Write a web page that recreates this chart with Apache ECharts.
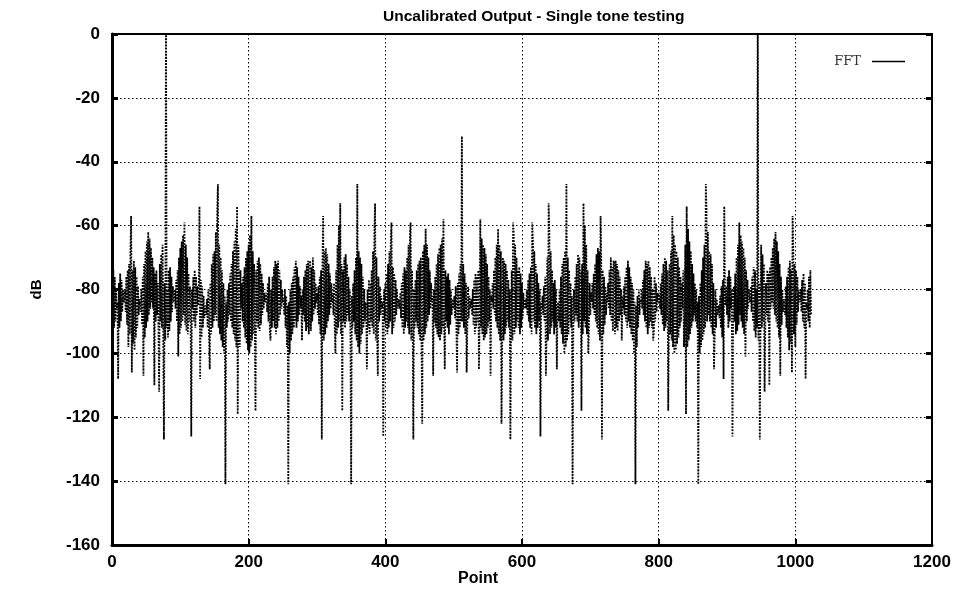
<!DOCTYPE html>
<html>
<head>
<meta charset="utf-8">
<title>Uncalibrated Output - Single tone testing</title>
<script src="https://cdn.jsdelivr.net/npm/echarts@6.0.0/dist/echarts.min.js"></script>
<style>
  html, body { margin: 0; padding: 0; background: #fff; }
  #chart { width: 957px; height: 589px; }
</style>
</head>
<body>
<div id="chart"></div>
<script>
// FFT bins 0..512 (dB)
const dbFirstHalf = [
  -72,-88,-74,-92,-76,-90,-80,-86,-84,-108,
  -78,-92,-75,-90,-77,-87,-80,-84,-83,-80,
  -87,-76,-91,-74,-98,-72,-94,-68,-57,-106,
  -74,-97,-71,-99,-73,-95,-76,-92,-79,-88,
  -83,-84,-87,-80,-91,-76,-107,-72,-95,-68,
  -92,-65,-90,-62,-88,-64,-86,-67,-84,-70,
  -86,-73,-110,-75,-90,-74,-88,-78,-92,-112,
  -72,-90,-69,-92,-66,-95,-127,-78,-96,10,
  -92,-80,-95,-74,-93,-73,-90,-76,-87,-79,
  -84,-82,-80,-86,-77,-90,-74,-101,-70,-94,
  -67,-92,-65,-90,-63,-88,-59,-91,-66,-93,
  -70,-94,-75,-90,-79,-86,-126,-80,-86,-76,
  -90,-74,-92,-76,-88,-79,-85,-82,-54,-108,
  -77,-95,-79,-92,-82,-89,-85,-86,-88,-83,
  -92,-80,-95,-105,-78,-94,-72,-92,-69,-90,
  -68,-88,-62,-90,-55,-47,-92,-66,-94,-70,
  -96,-74,-98,-78,-100,-82,-141,-84,-92,-80,
  -90,-78,-88,-75,-90,-72,-92,-68,-94,-65,
  -96,-61,-98,-54,-119,-66,-88,-98,-74,-86,
  -78,-90,-76,-92,-73,-95,-70,-97,-68,-99,
  -66,-100,-63,-98,-57,-96,-68,-94,-72,-92,
  -118,-74,-90,-71,-92,-70,-93,-72,-91,-75,
  -88,-78,-86,-81,-84,-84,-81,-87,-78,-90,
  -76,-93,-96,-80,-92,-76,-90,-73,-92,-71,
  -94,-72,-92,-71,-90,-74,-88,-77,-86,-80,
  -84,-83,-88,-80,-92,-82,-98,-85,-141,-84,
  -100,-80,-96,-78,-94,-76,-92,-73,-90,-71,
  -92,-73,-90,-76,-88,-79,-86,-82,-96,-80,
  -88,-76,-90,-74,-93,-72,-92,-71,-94,-72,
  -71,-93,-73,-90,-70,-88,-74,-86,-78,-84,
  -81,-88,-79,-91,-76,-94,-74,-127,-72,-57,
  -96,-68,-94,-67,-92,-69,-90,-72,-88,-75,
  -86,-78,-84,-81,-88,-78,-92,-100,-74,-94,
  -66,-92,-60,-90,-53,-94,-72,-118,-74,-90,
  -70,-92,-69,-90,-72,-88,-76,-90,-80,-95,
  -141,-82,-92,-78,-90,-74,-94,-70,-96,-47,
  -98,-68,-100,-70,-97,-72,-94,-76,-92,-80,
  -90,-84,-86,-105,-80,-92,-77,-94,-78,-90,
  -74,-92,-68,-94,-62,-53,-96,-70,-94,-107,
  -76,-90,-79,-88,-82,-86,-84,-126,-80,-90,
  -78,-92,-75,-94,-72,-92,-68,-90,-65,-59,
  -94,-73,-92,-75,-90,-77,-88,-80,-86,-83,
  -84,-86,-81,-89,-78,-92,-75,-94,-73,-92,
  -74,-90,-70,-92,-66,-94,-63,-59,-96,-74,
  -90,-127,-80,-92,-77,-90,-74,-92,-72,-94,
  -71,-96,-70,-98,-122,-68,-96,-66,-94,-61,
  -92,-66,-90,-70,-88,-74,-86,-78,-84,-82,
  -107,-80,-90,-76,-92,-72,-94,-69,-95,-67,
  -96,-66,-94,-64,-92,-58,-90,-105,-74,-90,
  -76,-92,-75,-94,-77,-91,-80,-88,-83,-85,
  -86,-82,-89,-79,-92,-106,-78,-94,-75,-92,
  -72,-90,-32
];

// FFT bins 513..1023 (mirror side of the spectrum)
const dbSecondHalf = [
  -90,-72,
  -92,-75,-94,-78,-106,-92,-79,-89,-82,-86,
  -85,-83,-88,-80,-91,-77,-94,-75,-92,-76,
  -90,-74,-105,-90,-58,-92,-64,-94,-66,-96,
  -67,-95,-69,-94,-72,-92,-76,-90,-80,-107,
  -82,-84,-78,-86,-74,-88,-70,-90,-66,-92,
  -61,-94,-66,-96,-68,-122,-98,-70,-96,-71,
  -94,-72,-92,-74,-90,-77,-92,-80,-127,-90,
  -74,-96,-59,-63,-94,-66,-92,-70,-90,-74,
  -92,-73,-94,-75,-92,-78,-89,-81,-86,-84,
  -83,-86,-80,-88,-77,-90,-75,-92,-73,-94,
  -59,-65,-90,-68,-92,-72,-94,-75,-92,-78,
  -90,-80,-126,-84,-86,-82,-88,-79,-90,-76,
  -107,-94,-70,-96,-53,-62,-94,-68,-92,-74,
  -90,-78,-94,-77,-92,-80,-105,-86,-84,-90,
  -80,-92,-76,-94,-72,-97,-70,-100,-68,-98,
  -47,-96,-70,-94,-74,-90,-78,-92,-82,-141,
  -95,-80,-90,-76,-88,-72,-90,-69,-92,-70,
  -90,-74,-118,-72,-94,-53,-90,-60,-92,-66,
  -94,-74,-100,-92,-78,-88,-81,-84,-78,-86,
  -75,-88,-72,-90,-69,-92,-67,-94,-68,-96,
  -57,-72,-127,-74,-94,-76,-91,-79,-88,-81,
  -84,-78,-86,-74,-88,-70,-90,-73,-93,-71,
  -72,-94,-71,-92,-72,-93,-74,-90,-76,-88,
  -80,-96,-82,-86,-79,-88,-76,-90,-73,-92,
  -71,-90,-73,-92,-76,-94,-78,-96,-80,-100,
  -84,-141,-85,-98,-82,-92,-80,-88,-83,-84,
  -80,-86,-77,-88,-74,-90,-71,-92,-72,-94,
  -71,-92,-73,-90,-76,-92,-80,-96,-93,-76,
  -90,-78,-87,-81,-84,-84,-81,-86,-78,-88,
  -75,-91,-72,-93,-70,-92,-71,-90,-74,-118,
  -92,-72,-94,-68,-96,-57,-98,-63,-100,-66,
  -99,-68,-97,-70,-95,-73,-92,-76,-90,-78,
  -86,-74,-98,-88,-66,-119,-54,-98,-61,-96,
  -65,-94,-68,-92,-72,-90,-75,-88,-78,-90,
  -80,-92,-84,-141,-82,-100,-78,-98,-74,-96,
  -70,-94,-66,-92,-47,-55,-90,-62,-88,-68,
  -90,-69,-92,-72,-94,-78,-105,-95,-80,-92,
  -83,-88,-86,-85,-89,-82,-92,-79,-95,-77,
  -108,-54,-82,-85,-79,-88,-76,-92,-74,-90,
  -76,-86,-80,-126,-86,-79,-90,-75,-94,-70,
  -93,-66,-91,-59,-88,-63,-90,-65,-92,-67,
  -94,-70,-101,-74,-90,-77,-86,-80,-82,-84,
  -79,-87,-76,-90,-73,-93,-74,-95,-80,-92,
  10,-96,-78,-127,-95,-66,-92,-69,-90,-72,
  -112,-92,-78,-88,-74,-90,-75,-110,-73,-86,
  -70,-84,-67,-86,-64,-88,-62,-90,-65,-92,
  -68,-95,-72,-107,-76,-91,-80,-87,-84,-83,
  -88,-79,-92,-76,-95,-73,-99,-71,-97,-74,
  -106,-57,-68,-94,-72,-98,-74,-91,-76,-87,
  -80,-83,-84,-80,-87,-77,-90,-75,-92,-78,
  -108,-84,-86,-80,-90,-76,-92,-74,-88
];

const xTicks = [0, 200, 400, 600, 800, 1000, 1200];
const yTicks = [-160, -140, -120, -100, -80, -60, -40, -20, 0];

const fftValues = dbFirstHalf.concat(dbSecondHalf);
const fftData = fftValues.map((v, i) => [i, v]);

const font = "'Liberation Sans', Arial, Helvetica, sans-serif";
const chart = echarts.init(document.getElementById("chart"));

const gridLine = {
  show: true,
  lineStyle: { color: "#000", width: 1, type: [1.5, 2.5] },
};

const option = {
  animation: false,
  backgroundColor: "#fff",
  title: {
    text: "Uncalibrated Output - Single tone testing",
    left: 383,
    top: 9,
    padding: 0,
    textStyle: { fontFamily: font, fontSize: 15.5, fontWeight: "bold", color: "#000" },
  },
  legend: {
    data: ["FFT"],
    right: 47,
    top: 50,
    align: "right",
    icon: "rect",
    itemWidth: 33,
    itemHeight: 1.5,
    itemGap: 10,
    itemStyle: { color: "#000", borderWidth: 0 },
    textStyle: { fontFamily: "'DejaVu Serif', serif", fontSize: 13, color: "#333", padding: [0, 6, 0, 0] },
  },
  grid: {
    left: 112,
    top: 34,
    width: 820,
    height: 511,
    outerBoundsMode: "none",
    show: true,
    borderColor: "#000",
    borderWidth: 2,
  },
  xAxis: {
    type: "value",
    min: xTicks[0],
    max: xTicks[xTicks.length - 1],
    interval: xTicks[1] - xTicks[0],
    name: "Point",
    nameLocation: "middle",
    nameGap: 26,
    nameMoveOverlap: false,
    nameTextStyle: { fontFamily: font, fontSize: 16, fontWeight: "bold", color: "#000", padding: [0, 88, 0, 0] },
    axisLine: { show: true, onZero: false, lineStyle: { color: "#000", width: 3 } },
    axisTick: { show: true, inside: true, length: 6, lineStyle: { color: "#000", width: 2 } },
    axisLabel: {
      fontFamily: font, fontSize: 17, fontWeight: "bold", color: "#000", margin: 9,
      formatter: (v) => String(v),
    },
    splitLine: gridLine,
  },
  yAxis: [
    {
      type: "value",
      min: yTicks[0],
      max: yTicks[yTicks.length - 1],
      interval: yTicks[1] - yTicks[0],
      name: "dB",
      nameLocation: "middle",
      nameGap: 68,
      nameMoveOverlap: false,
      nameTextStyle: { fontFamily: font, fontSize: 15, fontWeight: "bold", color: "#000" },
      axisLine: { show: true, onZero: false, lineStyle: { color: "#000", width: 3 } },
      axisTick: { show: true, inside: true, length: 6, lineStyle: { color: "#000", width: 3 } },
      axisLabel: { fontFamily: font, fontSize: 17, fontWeight: "bold", color: "#000", margin: 12 },
      splitLine: gridLine,
    },
    {
      type: "value",
      position: "right",
      min: yTicks[0],
      max: yTicks[yTicks.length - 1],
      interval: yTicks[1] - yTicks[0],
      axisLine: { show: true, onZero: false, lineStyle: { color: "#000", width: 2 } },
      axisTick: { show: true, inside: true, length: 6, lineStyle: { color: "#000", width: 3 } },
      axisLabel: { show: false },
      splitLine: { show: false },
    },
  ],
  series: [
    {
      name: "FFT",
      type: "line",
      data: fftData,
      showSymbol: false,
      symbol: "none",
      clip: true,
      lineStyle: { color: "#000", width: 1.8, type: [1.8, 1.3] },
    },
  ],
};

chart.setOption(option);
</script>
</body>
</html>
